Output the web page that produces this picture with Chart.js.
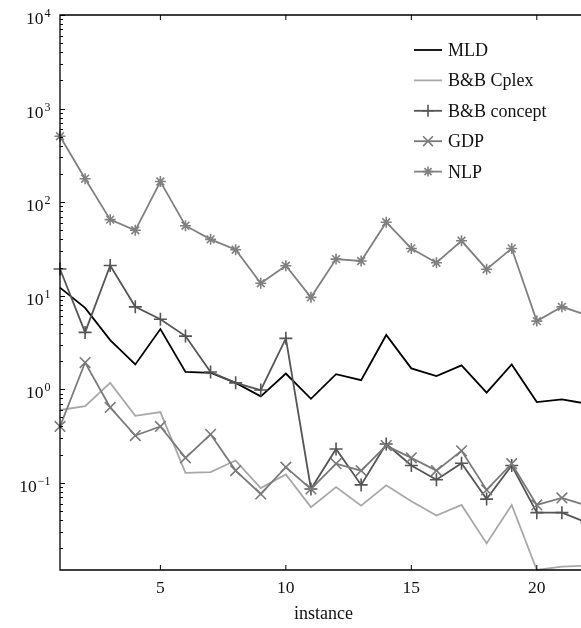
<!DOCTYPE html>
<html>
<head>
<meta charset="utf-8">
<script src="https://cdn.jsdelivr.net/npm/chart.js@4.4.1/dist/chart.umd.min.js"></script>
<style>
  html, body { margin: 0; padding: 0; overflow: hidden; background: #fff; }
  canvas { display: block; }
</style>
</head>
<body>
<canvas id="chart" width="600" height="628"></canvas>
<script>
// instances on the x axis
const instances = [1, 2, 3, 4, 5, 6, 7, 8, 9, 10, 11, 12, 13, 14, 15, 16, 17, 18, 19, 20, 21, 22];

// solve times per method (log scale)
const mld = [12.2, 7.4, 3.35, 1.84, 4.4, 1.53, 1.5, 1.17, 0.84, 1.47, 0.79, 1.45, 1.25, 3.8, 1.67, 1.38, 1.8, 0.92, 1.84, 0.73, 0.78, 0.7];
const bbCplex = [0.6, 0.66, 1.17, 0.52, 0.57, 0.128, 0.13, 0.173, 0.088, 0.123, 0.055, 0.09, 0.057, 0.094, 0.0635, 0.0447, 0.058, 0.0225, 0.058, 0.0117, 0.0127, 0.013];
const bbConcept = [19.3, 4.05, 21, 7.6, 5.6, 3.7, 1.53, 1.17, 0.98, 3.5, 0.086, 0.23, 0.095, 0.26, 0.153, 0.108, 0.162, 0.067, 0.153, 0.048, 0.048, 0.0376];
const gdp = [0.4, 1.93, 0.64, 0.32, 0.4, 0.185, 0.33, 0.135, 0.076, 0.147, 0.086, 0.16, 0.135, 0.25, 0.185, 0.135, 0.22, 0.084, 0.16, 0.058, 0.069, 0.057];
const nlp = [506, 178, 65, 50, 166, 56, 40, 31, 13.6, 20.9, 9.6, 24.6, 23.5, 61, 32, 22.5, 38.6, 19.2, 32, 5.35, 7.6, 6.2];

const seriesNames = ["MLD", "B&B Cplex", "B&B concept", "GDP", "NLP"];

// tick labels
const xTicks = [5, 10, 15, 20];
const yTickValues = [0.1, 1, 10, 100, 1000, 10000];
const yTickExponents = ["\u22121", "0", "1", "2", "3", "4"];
const xTitle = "instance";

const FONT = "'Liberation Serif', 'DejaVu Serif', serif";

function series(label, values, color, pointStyle, radius, order) {
  return {
    label: label,
    data: values.map((v, i) => ({ x: instances[i], y: v })),
    borderColor: color,
    backgroundColor: color,
    borderWidth: 1.8,
    pointStyle: pointStyle || false,
    pointRadius: pointStyle ? radius : 0,
    pointBorderWidth: 1.6,
    pointBorderColor: color,
    tension: 0,
    clip: false,
    order: order,
  };
}

const datasets = [
  series(seriesNames[0], mld, "#000000", null, 0, 5),
  series(seriesNames[1], bbCplex, "#a8a8a8", null, 0, 4),
  series(seriesNames[2], bbConcept, "#555555", "cross", 6.5, 3),
  series(seriesNames[3], gdp, "#7a7a7a", "crossRot", 7.5, 2),
  series(seriesNames[4], nlp, "#808080", "star", 5.5, 1),
];

// axis box, inward ticks, y labels and the legend
const frame = {
  id: "frame",
  afterDraw(chart) {
    const ctx = chart.ctx;
    const a = chart.chartArea;
    const xs = chart.scales.x;
    const ys = chart.scales.y;
    ctx.save();
    ctx.strokeStyle = "#000";
    ctx.lineWidth = 1.3;
    ctx.beginPath();
    ctx.moveTo(a.left, a.top);
    ctx.lineTo(a.left, a.bottom);
    ctx.lineTo(a.right, a.bottom);
    ctx.lineTo(a.right, a.top);
    ctx.closePath();
    ctx.stroke();

    ctx.lineWidth = 1;
    ctx.beginPath();
    // x ticks, bottom and top
    for (const t of xTicks) {
      const px = xs.getPixelForValue(t);
      ctx.moveTo(px, a.bottom);
      ctx.lineTo(px, a.bottom - 5);
      ctx.moveTo(px, a.top);
      ctx.lineTo(px, a.top + 5);
    }
    // y ticks: majors and minors
    const min = ys.min, max = ys.max;
    for (let e = -3; e <= 4; e++) {
      for (let m = 1; m <= 9; m++) {
        const v = m * Math.pow(10, e);
        if (v < min * 0.999 || v > max * 1.001) continue;
        const py = Math.round(ys.getPixelForValue(v)) + 0.5;
        const len = m === 1 ? 5 : 3;
        ctx.moveTo(a.left, py);
        ctx.lineTo(a.left + len, py);
        ctx.moveTo(a.right, py);
        ctx.lineTo(a.right - len, py);
      }
    }
    ctx.stroke();

    // y labels as 10 with exponent
    ctx.fillStyle = "#111";
    ctx.textAlign = "right";
    ctx.textBaseline = "alphabetic";
    yTickValues.forEach((v, i) => {
      const py = ys.getPixelForValue(v);
      const xr = a.left - 9.5;
      ctx.font = "12px " + FONT;
      const ew = ctx.measureText(yTickExponents[i]).width;
      ctx.fillText(yTickExponents[i], xr, py + 2);
      ctx.font = "17.5px " + FONT;
      ctx.fillText("10", xr - ew - 1, py + 9);
    });

    // legend
    const lx = a.left + 354;
    const ly = a.top + 35;
    const gap = 30.4;
    chart.data.datasets.forEach((ds, i) => {
      const y = ly + i * gap;
      ctx.strokeStyle = ds.borderColor;
      ctx.lineWidth = ds.borderWidth;
      ctx.beginPath();
      ctx.moveTo(lx, y);
      ctx.lineTo(lx + 28, y);
      ctx.stroke();
      if (ds.pointStyle) {
        ctx.lineWidth = ds.pointBorderWidth;
        Chart.helpers.drawPoint(ctx, { pointStyle: ds.pointStyle, radius: ds.pointRadius - 0.5, rotation: 0, borderWidth: ds.pointBorderWidth }, lx + 14, y);
      }
      ctx.fillStyle = "#111";
      ctx.textAlign = "left";
      ctx.font = "18px " + FONT;
      ctx.fillText(ds.label, lx + 34, y + 6);
    });
    ctx.restore();
  },
};

new Chart(document.getElementById("chart"), {
  type: "line",
  data: { datasets: datasets },
  options: {
    responsive: false,
    animation: false,
    layout: { padding: { left: 0, right: 13, top: 15, bottom: 0 } },
    plugins: { legend: { display: false }, tooltip: { enabled: false } },
    scales: {
      x: {
        type: "linear",
        min: 1,
        max: 22,
        grid: { display: false, drawTicks: false },
        border: { display: false },
        afterBuildTicks: (s) => { s.ticks = xTicks.map((v) => ({ value: v })); },
        afterFit: (s) => { s.height = 58; },
        ticks: { color: "#111", font: { family: FONT, size: 17.5 }, padding: 8, maxRotation: 0 },
        title: { display: true, text: xTitle, color: "#111", font: { family: FONT, size: 18 }, padding: { top: 0, bottom: 3 } },
      },
      y: {
        type: "logarithmic",
        min: 0.0117,
        max: 10000,
        grid: { display: false, drawTicks: false },
        border: { display: false },
        ticks: { display: false },
        afterFit: (s) => { s.width = 60; },
      },
    },
  },
  plugins: [frame],
});
</script>
</body>
</html>
